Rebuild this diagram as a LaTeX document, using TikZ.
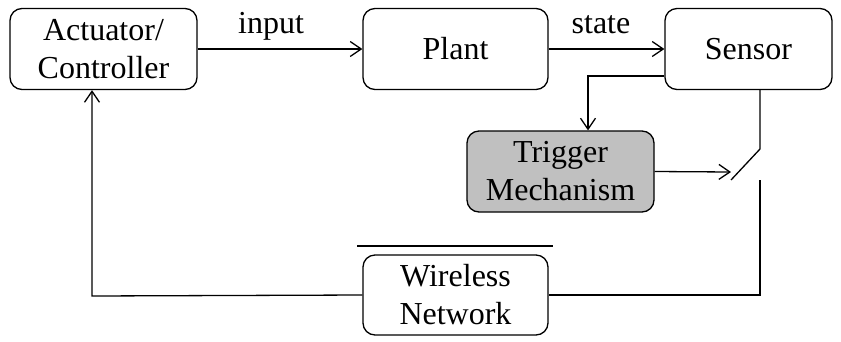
\documentclass[tikz,border=0pt]{standalone}
\usepackage{fontspec}
\setmainfont{Liberation Serif}
\usetikzlibrary{arrows.meta,calc}
\definecolor{trigfill}{HTML}{C0C0C0}
\tikzset{
  blk/.style={draw, line width=1.3pt, rounded corners=12pt, align=center, inner sep=0pt,
    font=\fontsize{32}{38}\selectfont},
  conn/.style={line width=1.3pt},
  arr/.style={conn, -{Straight Barb[length=11pt,width=15pt,line width=1.3pt]}},
  lbl/.style={anchor=base, font=\fontsize{32}{38}\selectfont, inner sep=0pt}
}
\begin{document}
\begin{tikzpicture}[x=1pt,y=-1pt]
\useasboundingbox (0,0) rectangle (841,341);
\node[blk, minimum width=187pt, minimum height=81pt] (act) at (103.5,49) {Actuator/\\Controller};
\node[blk, minimum width=185pt, minimum height=81pt] (plant) at (455.5,49) {Plant};
\node[blk, minimum width=167pt, minimum height=81pt] (sensor) at (748.5,49) {Sensor};
\node[blk, fill=trigfill, minimum width=187pt, minimum height=81pt] (trig) at (560.5,171.5) {Trigger\\Mechanism};
\node[blk, minimum width=185pt, minimum height=80pt] (wire) at (455.5,295) {Wireless\\Network};
\node[lbl] (inlbl) at (271,33) {input};
\node[lbl] (stlbl) at (601,33) {state};
\coordinate (tap) at (588,76);
\coordinate (swtop) at (760,149);
\coordinate (swtip) at (731,180);
\coordinate (swbot) at (760,180);
\coordinate (swin) at (731,172);
\coordinate (ax) at (92,296);
\coordinate (ol1) at (357,246);
\coordinate (ol2) at (553,246);
\draw[arr] (act.east) -- (plant.west);
\draw[arr] (plant.east) -- (sensor.west);
\draw[arr] (sensor.west |- tap) -- (tap) -- (tap |- trig.north);
\draw[arr] (trig.east) -- (swin);
\draw[conn] (sensor.south -| swtop) -- (swtop) -- (swtip);
\draw[conn] (swbot) |- (wire.east);
\draw[arr] (wire.west) -- (ax) -- (ax |- act.south);
\draw[conn] (ol1) -- (ol2);
\end{tikzpicture}
\end{document}
